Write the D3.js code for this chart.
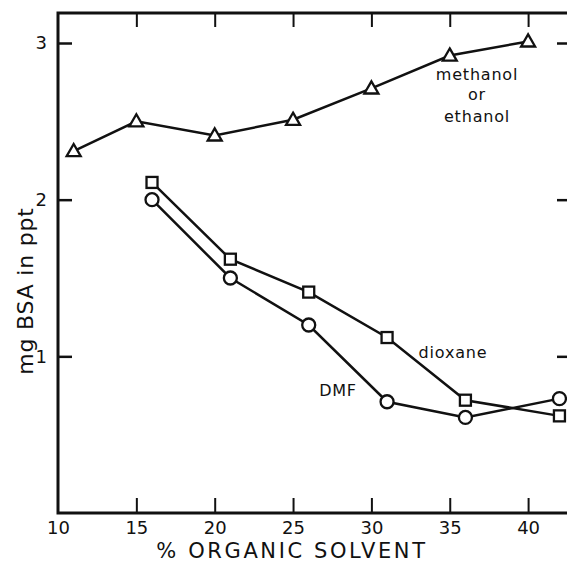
<!DOCTYPE html>
<html>
<head>
<meta charset="utf-8">
<script src="https://cdnjs.cloudflare.com/ajax/libs/d3/7.8.5/d3.min.js"></script>
<style>
  body { margin: 0; background: #fff; }
  svg text { font-family: "DejaVu Sans", sans-serif; fill: #111; }
  .axis path, .axis line { stroke: #111; }
</style>
</head>
<body>
<div class="vis"></div>
<script>
// data
const methanolX = [11, 15, 20, 25, 30, 35, 40];
const methanolY = [2.31, 2.50, 2.41, 2.51, 2.71, 2.92, 3.01];
const dioxaneX = [16, 21, 26, 31, 36, 42];
const dioxaneY = [2.11, 1.62, 1.41, 1.12, 0.72, 0.62];
const dmfX = [16, 21, 26, 31, 36, 42];
const dmfY = [2.00, 1.50, 1.20, 0.71, 0.61, 0.73];
const xTicks = [10, 15, 20, 25, 30, 35, 40];
const yTicks = [1, 2, 3];

const width = 567, height = 565;
const plotLeft = 58, plotRight = 569, plotTop = 13, plotBottom = 513;

const svg = d3.select('.vis').append('svg')
    .attr('width', width)
    .attr('height', height);

const x = d3.scaleLinear().domain([10, 40]).range([plotLeft, plotLeft + 30 * 15.67]);
const y = d3.scaleLinear().domain([0, 3]).range([plotBottom, 43]);

// frame
svg.append('rect')
    .attr('x', plotLeft).attr('y', plotTop)
    .attr('width', plotRight - plotLeft).attr('height', plotBottom - plotTop)
    .attr('fill', 'none').attr('stroke', '#111').attr('stroke-width', 3);

// bottom axis
const xb = svg.append('g').attr('class', 'axis')
    .attr('transform', 'translate(0,' + plotBottom + ')')
    .call(d3.axisBottom(x).tickValues(xTicks).tickSizeInner(-15).tickSizeOuter(0).tickPadding(8));
xb.select('.domain').remove();
xb.selectAll('line').attr('stroke-width', 2).filter(d => d === 10).remove();
xb.selectAll('text').style('font-size', '18px');

// top axis
const xt = svg.append('g').attr('class', 'axis')
    .attr('transform', 'translate(0,' + plotTop + ')')
    .call(d3.axisTop(x).tickValues(xTicks.slice(1)).tickSizeInner(-14).tickSizeOuter(0).tickFormat(''));
xt.select('.domain').remove();
xt.selectAll('line').attr('stroke-width', 2);

// left axis
const yl = svg.append('g').attr('class', 'axis')
    .attr('transform', 'translate(' + plotLeft + ',0)')
    .call(d3.axisLeft(y).tickValues(yTicks).tickFormat(d3.format('d'))
        .tickSizeInner(-14).tickSizeOuter(0).tickPadding(11));
yl.select('.domain').remove();
yl.selectAll('line').attr('stroke-width', 2.5);
yl.selectAll('text').style('font-size', '18px');

// right axis
const yr = svg.append('g').attr('class', 'axis')
    .attr('transform', 'translate(' + plotRight + ',0)')
    .call(d3.axisRight(y).tickValues(yTicks).tickSizeInner(-12).tickSizeOuter(0).tickFormat(''));
yr.select('.domain').remove();
yr.selectAll('line').attr('stroke-width', 2.5);

// axis titles
svg.append('text')
    .attr('x', 292).attr('y', 558)
    .attr('text-anchor', 'middle')
    .style('font-size', '21px')
    .style('letter-spacing', '2.6px')
    .text('% ORGANIC  SOLVENT');

svg.append('text')
    .attr('transform', 'translate(33,291) rotate(-90)')
    .attr('text-anchor', 'middle')
    .style('font-size', '22px')
    .style('letter-spacing', '0.8px')
    .text('mg BSA in ppt');

const line = d3.line().x(d => x(d[0])).y(d => y(d[1]));
const zip = (a, b) => a.map((v, i) => [v, b[i]]);

const series = [
    {pts: zip(methanolX, methanolY), shape: 'tri'},
    {pts: zip(dioxaneX, dioxaneY), shape: 'sq'},
    {pts: zip(dmfX, dmfY), shape: 'circ'},
];

series.forEach(s => {
    svg.append('path')
        .datum(s.pts)
        .attr('d', line)
        .attr('fill', 'none')
        .attr('stroke', '#111')
        .attr('stroke-width', 2.5);
});

series.forEach(s => {
    const g = svg.append('g');
    const sel = g.selectAll('.m').data(s.pts).enter();
    if (s.shape === 'tri') {
        sel.append('path')
            .attr('d', d3.symbol().type(d3.symbolTriangle).size(85))
            .attr('transform', d => 'translate(' + x(d[0]) + ',' + (y(d[1]) + 1) + ')');
    } else if (s.shape === 'sq') {
        sel.append('rect')
            .attr('x', d => x(d[0]) - 5.5).attr('y', d => y(d[1]) - 5.5)
            .attr('width', 11).attr('height', 11);
    } else {
        sel.append('circle')
            .attr('cx', d => x(d[0])).attr('cy', d => y(d[1]))
            .attr('r', 6.5);
    }
    g.selectAll('*').attr('fill', '#fff').attr('stroke', '#111').attr('stroke-width', 2.3);
});

// series labels
const lab = (t, cx, cy) => svg.append('text')
    .attr('x', cx).attr('y', cy)
    .attr('text-anchor', 'middle')
    .style('font-size', '16px')
    .style('letter-spacing', '0.8px')
    .text(t);
lab('methanol', 477, 80);
lab('or', 477, 100);
lab('ethanol', 477, 122);
lab('dioxane', 453, 358);
lab('DMF', 338, 396);
</script>
</body>
</html>
